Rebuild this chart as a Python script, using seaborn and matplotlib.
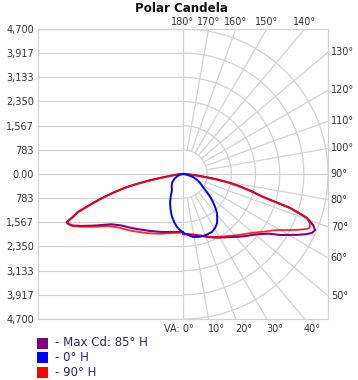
import matplotlib
matplotlib.use('Agg')
import matplotlib.pyplot as plt
from matplotlib.patches import Rectangle
import seaborn as sns
import numpy as np
import pandas as pd

# Valores de la curva (angulo vertical desde nadir, candela)
# lado derecho / izquierdo de cada plano
ang_max_r = [0, 5, 10, 15, 20, 25, 30, 35, 40, 45, 50, 55, 58, 60, 62, 64, 65.5, 67, 68.6, 70.5, 72.4, 74, 76, 78, 79.2, 81, 83.3, 86, 90]
cd_max_r = [1950, 1960, 2000, 2070, 2160, 2270, 2380, 2500, 2660, 2850, 3050, 3370, 3730, 3950, 4200, 4450, 4600, 4650, 4530, 4260, 3640, 2700, 2260, 1820, 1550, 1110, 555, 200, 0]
ang_max_l = [0, 5, 10, 15, 20, 25, 30, 35, 40, 45, 50, 55, 60, 63, 65, 66.5, 67.5, 69, 70, 71, 72, 73, 74, 75, 76, 77, 78, 79, 80, 82, 84, 86, 90]
cd_max_l = [1880, 1887, 1909, 1946, 2000, 2056, 2133, 2216, 2328, 2452, 2597, 2842, 3350, 3711, 3948, 4050, 4080, 3780, 3640, 3350, 3090, 2840, 2590, 2340, 2090, 1840, 1480, 1140, 790, 400, 200, 90, 0]

ang_90_r = [0, 5, 10, 15, 20, 25, 30, 35, 40, 45, 50, 55, 58, 60, 62, 64, 66, 67, 68, 69, 70.5, 72.4, 74, 76, 78, 79.2, 81, 83.3, 86, 90]
cd_90_r = [1950, 1960, 2000, 2060, 2150, 2250, 2350, 2460, 2600, 2760, 2960, 3250, 3450, 3630, 3870, 4130, 4380, 4460, 4440, 4390, 4260, 3640, 2700, 2260, 1820, 1550, 1110, 555, 200, 0]
ang_90_l = [0, 5, 10, 15, 20, 25, 30, 35, 40, 45, 50, 55, 60, 63, 65, 66.5, 67.5, 69, 70, 71, 72, 73, 74, 75, 76, 77, 78, 79, 80, 82, 84, 86, 90]
cd_90_l = [1900, 1910, 1940, 1990, 2060, 2130, 2220, 2310, 2430, 2560, 2700, 2940, 3420, 3760, 3980, 4060, 4080, 3780, 3640, 3350, 3090, 2840, 2590, 2340, 2090, 1840, 1480, 1140, 790, 400, 200, 90, 0]

ang_0_r = [0, 5, 9, 14, 18, 22, 26.6, 31, 34.8, 38, 41.1, 44.5, 48.1, 52, 57, 63, 68, 73.3, 80, 85, 90]
cd_0_r = [1900, 1990, 2067, 2100, 2111, 2110, 2100, 2030, 1933, 1800, 1677, 1480, 1263, 1030, 773, 613, 480, 338, 150, 60, 0]
ang_0_l = [0, 3, 6.5, 10, 14.3, 19, 24.1, 29, 34.5, 42, 50.7, 56, 63, 72, 80, 90]
cd_0_l = [1890, 1820, 1729, 1600, 1439, 1230, 1030, 820, 629, 550, 461, 380, 290, 160, 70, 0]

cd_labels = ['4,700', '3,917', '3,133', '2,350', '1,567', '783', '0.00',
             '783', '1,567', '2,350', '3,133', '3,917', '4,700']
top_angles = [180, 170, 160, 150, 140]
right_angles = [130, 120, 110, 100, 90, 80, 70, 60, 50]
bottom_angles = [0, 10, 20, 30, 40]

series_names = ['- Max Cd: 85° H', '- 0° H', '- 90° H']
series_colors = ['#800080', '#0000ff', '#ff0000']

R = 4700
STEP = R / 6
GRID = '#d2d2d2'
TXT = '#333333'


def curve_xy(ang_l, cd_l, ang_r, cd_r):
    """Pasa la curva polar (lado izq + der) a coordenadas x, y."""
    al = np.radians(np.array(ang_l[::-1], dtype=float))
    cl = np.array(cd_l[::-1], dtype=float)
    ar = np.radians(np.array(ang_r, dtype=float))
    cr = np.array(cd_r, dtype=float)
    x = np.concatenate([-cl * np.sin(al), cr * np.sin(ar)])
    y = np.concatenate([-cl * np.cos(al), -cr * np.cos(ar)])
    return pd.DataFrame({'x': x, 'y': y})


def edge_hit(theta):
    """Distancia hasta el borde del cuadro en la direccion theta."""
    s, c = abs(np.sin(theta)), abs(np.cos(theta))
    t = []
    if s > 1e-9:
        t.append(R / s)
    if c > 1e-9:
        t.append(R / c)
    return min(t)


sns.set_style('white')
plt.rcParams['font.family'] = ['DejaVu Sans']

fig = plt.figure(figsize=(3.58, 3.80), dpi=100)
ax = fig.add_axes([38 / 358, 1 - 319 / 380, 290 / 358, 290 / 380])

# rejilla lado izquierdo: lineas horizontales
for k in range(-6, 7):
    ax.plot([-R, 0], [k * STEP, k * STEP], color=GRID, lw=0.9, zorder=1)

# rejilla lado derecho: anillos y radios
t = np.linspace(0, np.pi, 200)
for k in range(1, 7):
    r = k * STEP
    ax.plot(r * np.sin(t), -r * np.cos(t), color=GRID, lw=0.9, zorder=1)
for a in range(0, 181, 10):
    th = np.radians(a)
    r1 = edge_hit(th)
    r0 = 0 if a in (0, 90, 180) else STEP
    ax.plot([r0 * np.sin(th), r1 * np.sin(th)], [-r0 * np.cos(th), -r1 * np.cos(th)],
            color=GRID, lw=0.9, zorder=1)

# curvas
df_90 = curve_xy(ang_90_l, cd_90_l, ang_90_r, cd_90_r)
df_max = curve_xy(ang_max_l, cd_max_l, ang_max_r, cd_max_r)
df_0 = curve_xy(ang_0_l, cd_0_l, ang_0_r, cd_0_r)
sns.lineplot(data=df_max, x='x', y='y', sort=False, estimator=None, color=series_colors[0], lw=1.5, ax=ax, zorder=3)
sns.lineplot(data=df_90, x='x', y='y', sort=False, estimator=None, color=series_colors[2], lw=1.3, alpha=0.85, ax=ax, zorder=4)
sns.lineplot(data=df_0, x='x', y='y', sort=False, estimator=None, color=series_colors[1], lw=1.4, ax=ax, zorder=5)

ax.set_xlim(-R, R)
ax.set_ylim(-R, R)
ax.set_xlabel('')
ax.set_ylabel('')
ax.set_xticks([])
ax.set_yticks([R - i * STEP for i in range(13)])
ax.set_yticklabels(cd_labels, fontsize=7, color=TXT)
ax.tick_params(axis='y', length=0, pad=3)
for sp in ax.spines.values():
    sp.set_color(GRID)
    sp.set_linewidth(0.9)

# etiquetas de angulo
for a in top_angles:
    x = R * np.tan(np.radians(180 - a))
    ax.annotate(f'{a}°', (x, R), xytext=(0, 1.5), textcoords='offset points',
                ha='center', va='bottom', fontsize=7, color=TXT, annotation_clip=False)
for a in right_angles:
    th = np.radians(a)
    y = -R * np.cos(th) / np.sin(th)
    ax.annotate(f'{a}°', (R, y), xytext=(2, 0), textcoords='offset points',
                ha='left', va='center', fontsize=7, color=TXT, annotation_clip=False)
for a in bottom_angles:
    x = R * np.tan(np.radians(a))
    lab = 'VA: 0°' if a == 0 else f'{a}°'
    ax.annotate(lab, (x, -R), xytext=(7.5 if a == 0 else -0.5, -3.5), textcoords='offset points',
                ha='right' if a == 0 else 'left', va='top', fontsize=7, color=TXT,
                annotation_clip=False)

fig.text(181 / 358, 1 - 8 / 380, 'Polar Candela', ha='center', va='center',
         fontsize=8.6, fontweight='bold', color='#111111')

# leyenda
for i, (name, col) in enumerate(zip(series_names, series_colors)):
    yc = 343 + i * 14.5
    fig.add_artist(Rectangle((37 / 358, 1 - (yc + 5.5) / 380), 11 / 358, 11 / 380,
                             transform=fig.transFigure, color=col, lw=0))
    fig.text(55 / 358, 1 - yc / 380, name, ha='left', va='center',
             fontsize=8.5, color='#262673')

fig.savefig('out.png', dpi=100)
